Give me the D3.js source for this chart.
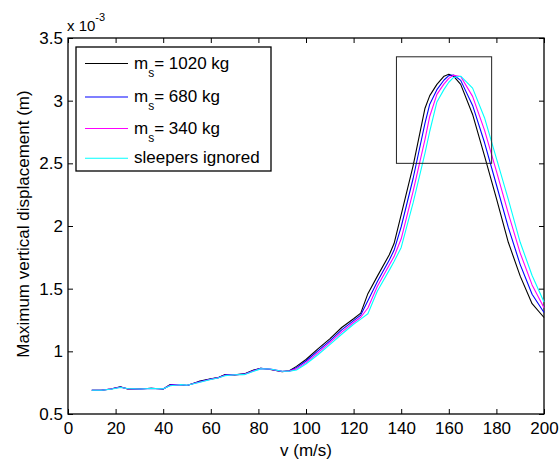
<!DOCTYPE html>
<html>
<head>
<meta charset="utf-8">
<script src="https://cdn.jsdelivr.net/npm/d3@7.9.0/dist/d3.min.js"></script>
<style>
  html, body { margin: 0; padding: 0; background: #fff; }
  svg text { font-family: "Liberation Sans", Arial, sans-serif; fill: #000; }
</style>
</head>
<body>
<svg id="chart" width="560" height="462"></svg>
<script>
// speeds (m/s)
const speeds = [10, 14, 18, 22, 25, 30, 35, 40, 43, 47, 50, 55, 60, 63, 66, 70, 74, 78, 81, 85, 90, 93, 96,
  100, 105, 110, 115, 120, 123, 126, 130, 135, 137, 140, 145, 150, 152, 155, 158, 160, 162, 165, 170, 175, 180,
  185, 190, 195, 200];

// maximum vertical displacement, x 10^-3 m
const ms1020 = [0.690, 0.690, 0.700, 0.718, 0.700, 0.700, 0.705, 0.700, 0.735, 0.733, 0.728, 0.760, 0.780,
  0.790, 0.815, 0.812, 0.820, 0.850, 0.865, 0.855, 0.838, 0.845, 0.880, 0.935, 1.020, 1.100, 1.190, 1.260,
  1.305, 1.460, 1.600, 1.770, 1.860, 2.090, 2.480, 2.940, 3.040, 3.130, 3.195, 3.210, 3.195, 3.130, 2.890, 2.560,
  2.220, 1.870, 1.600, 1.380, 1.270];
const ms680 = [0.690, 0.690, 0.700, 0.716, 0.701, 0.700, 0.705, 0.700, 0.732, 0.734, 0.728, 0.757, 0.779,
  0.789, 0.812, 0.813, 0.818, 0.847, 0.864, 0.857, 0.839, 0.843, 0.870, 0.923, 1.004, 1.084, 1.171, 1.245,
  1.289, 1.403, 1.558, 1.729, 1.806, 1.994, 2.379, 2.820, 2.972, 3.088, 3.165, 3.200, 3.205, 3.162, 2.962, 2.666,
  2.329, 1.989, 1.692, 1.455, 1.310];
const ms340 = [0.690, 0.690, 0.699, 0.714, 0.702, 0.700, 0.704, 0.701, 0.729, 0.734, 0.729, 0.754, 0.777,
  0.788, 0.809, 0.813, 0.816, 0.844, 0.862, 0.858, 0.840, 0.842, 0.860, 0.910, 0.988, 1.069, 1.153, 1.230,
  1.272, 1.346, 1.520, 1.688, 1.756, 1.898, 2.277, 2.692, 2.876, 3.050, 3.134, 3.178, 3.203, 3.193, 3.034, 2.765,
  2.438, 2.101, 1.784, 1.530, 1.347];
const noSleepers = [0.689, 0.690, 0.698, 0.712, 0.703, 0.699, 0.703, 0.701, 0.726, 0.734, 0.730, 0.751, 0.775,
  0.787, 0.806, 0.813, 0.814, 0.841, 0.860, 0.859, 0.841, 0.841, 0.851, 0.899, 0.973, 1.054, 1.136, 1.216,
  1.257, 1.300, 1.481, 1.648, 1.716, 1.829, 2.184, 2.581, 2.756, 2.990, 3.090, 3.147, 3.185, 3.195, 3.100, 2.864,
  2.540, 2.213, 1.870, 1.605, 1.393];

const seriesNames = ['1020 kg', '680 kg', '340 kg', 'sleepers ignored'];
const seriesColors = ['#000000', '#0000ff', '#ff00ff', '#00ffff'];
const seriesValues = [ms1020, ms680, ms340, noSleepers];

const xTicks = [0, 20, 40, 60, 80, 100, 120, 140, 160, 180, 200];
const yTicks = [0.5, 1, 1.5, 2, 2.5, 3, 3.5];

// zoom box drawn around the peak
const boxSpeeds = [138, 178];
const boxDisp = [2.5, 3.35];

const svg = d3.select('#chart');
const plotLeft = 68, plotRight = 544, plotTop = 38, plotBottom = 414;

const x = d3.scaleLinear().domain([0, 200]).range([plotLeft, plotRight]);
const y = d3.scaleLinear().domain([0.5, 3.5]).range([plotBottom, plotTop]);

// axes with inward ticks
const fontSize = 17;
const gx = svg.append('g').attr('transform', `translate(0,${plotBottom})`)
  .call(d3.axisBottom(x).tickValues(xTicks).tickSizeInner(-5).tickSizeOuter(0).tickPadding(8));
const gy = svg.append('g').attr('transform', `translate(${plotLeft},0)`)
  .call(d3.axisLeft(y).tickValues(yTicks).tickFormat(d3.format('~g')).tickSizeInner(-5).tickSizeOuter(0).tickPadding(5));
const gt = svg.append('g').attr('transform', `translate(0,${plotTop})`)
  .call(d3.axisTop(x).tickValues(xTicks).tickFormat('').tickSizeInner(-5).tickSizeOuter(0));
const gr = svg.append('g').attr('transform', `translate(${plotRight},0)`)
  .call(d3.axisRight(y).tickValues(yTicks).tickFormat('').tickSizeInner(-5).tickSizeOuter(0));

[gx, gy, gt, gr].forEach(g => {
  g.select('.domain').remove();
  g.selectAll('line').attr('stroke', '#000').attr('stroke-width', 1);
  g.selectAll('text').attr('font-size', fontSize).attr('font-family', '"Liberation Sans", Arial, sans-serif').attr('fill', '#000');
});

// axes box
svg.append('rect')
  .attr('x', plotLeft).attr('y', plotTop)
  .attr('width', plotRight - plotLeft).attr('height', plotBottom - plotTop)
  .attr('fill', 'none').attr('stroke', '#000').attr('stroke-width', 1.3);

// curves
const line = d3.line()
  .x((d, i) => x(speeds[i]))
  .y(d => y(d));

svg.append('g').selectAll('path')
  .data(seriesValues)
  .join('path')
  .attr('d', d => line(d))
  .attr('fill', 'none')
  .attr('stroke', (d, i) => seriesColors[i])
  .attr('stroke-width', 1.1)
  .attr('stroke-linejoin', 'round');

// zoom box
svg.append('rect')
  .attr('x', x(boxSpeeds[0])).attr('y', y(boxDisp[1]))
  .attr('width', x(boxSpeeds[1]) - x(boxSpeeds[0]))
  .attr('height', y(boxDisp[0]) - y(boxDisp[1]))
  .attr('fill', 'none').attr('stroke', '#222').attr('stroke-width', 1);

// axis labels
svg.append('text')
  .attr('x', (plotLeft + plotRight) / 2).attr('y', 456)
  .attr('text-anchor', 'middle').attr('font-size', fontSize)
  .text('v (m/s)');

svg.append('text')
  .attr('transform', `translate(29,${(plotTop + plotBottom) / 2 - 2}) rotate(-90)`)
  .attr('text-anchor', 'middle').attr('font-size', fontSize)
  .text('Maximum vertical displacement (m)');

// exponent label
const expo = svg.append('text').attr('x', 67).attr('y', 31).attr('font-size', 15);
expo.append('tspan').text('x 10');
expo.append('tspan').attr('font-size', 11).attr('dy', -10).text('-3');

// legend
const legend = svg.append('g');
legend.append('rect')
  .attr('x', 76).attr('y', 47).attr('width', 195).attr('height', 124)
  .attr('fill', '#fff').attr('stroke', '#000').attr('stroke-width', 1.3);

const rowY = [63.5, 97, 128.5, 158.3];
seriesNames.forEach((name, i) => {
  const ly = rowY[i];
  legend.append('line')
    .attr('x1', 85).attr('x2', 128).attr('y1', ly).attr('y2', ly)
    .attr('stroke', seriesColors[i]).attr('stroke-width', 1.1);
  const t = legend.append('text').attr('x', 134).attr('y', ly + 5).attr('font-size', fontSize);
  if (i < 3) {
    t.append('tspan').text('m');
    t.append('tspan').attr('font-size', 12).attr('dy', 8).text('s');
    t.append('tspan').attr('dy', -8).text('= ' + name);
  } else {
    t.text(name);
  }
});
</script>
</body>
</html>
